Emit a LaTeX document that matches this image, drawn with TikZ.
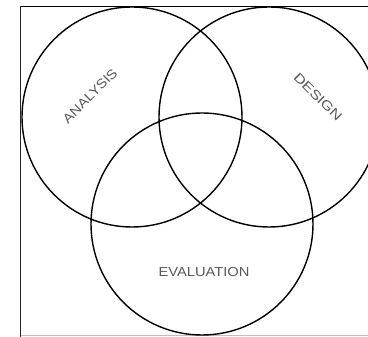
\documentclass[tikz,border=0pt]{standalone}
\usepackage{fontspec}
\setmainfont{Liberation Sans}
\newcommand{\wideword}[1]{\scalebox{1.13}[1]{#1}}
\begin{document}
\begin{tikzpicture}[x=1pt,y=-1pt,
  ring/.style={draw=black,line width=1.4pt},
  lbl/.style={text=black!65,font=\fontsize{13}{13}\selectfont,inner sep=0pt}]
\useasboundingbox (0,0) rectangle (368,337);
\clip (0,0) rectangle (368,337);
\fill[white] (0,0) rectangle (368,337);
\draw[black!25,line width=1pt] (20.5,336) -- (368,336);
\draw[black,line width=1pt] (20.5,6.7) -- (368,6.7);
\draw[black!85,line width=1.6pt] (20.5,6) -- (20.5,337);
\node[ring,circle,minimum size=220pt,inner sep=0pt] (ana) at (132,117) {};
\node[ring,circle,minimum size=220pt,inner sep=0pt] (des) at (269,117) {};
\node[ring,circle,minimum size=222pt,inner sep=0pt] (eva) at (202,224) {};
\node[lbl,rotate=45] (tana) at (90,96) {\wideword{ANALYSIS}};
\node[lbl,rotate=-45] (tdes) at (318,97) {\scalebox{1.25}[1]{DESIGN}};
\node[lbl] (teva) at (204,272) {\wideword{EVALUATION}};
\end{tikzpicture}
\end{document}
